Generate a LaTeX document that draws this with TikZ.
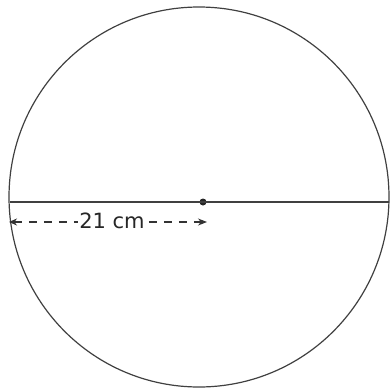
\documentclass[tikz,border=0pt]{standalone}
\usepackage{fontspec}
\setmainfont{DejaVu Sans}
\usetikzlibrary{arrows.meta}
\begin{document}
\begin{tikzpicture}[x=1pt, y=-1pt,
            dot/.style={circle, fill=black!85, minimum size=7pt, inner sep=0pt},
            measure/.style={dashed, dash pattern=on 8pt off 7pt, line width=1.1pt, {Stealth[length=8pt,width=7pt]}-{Stealth[length=9pt,width=7pt]}}
            ]
            \useasboundingbox (0,0) rectangle (390,391);
            \coordinate (o) at (199,197);
            \coordinate (l) at (10,202);
            \coordinate (r) at (389,202);
            \node[dot] (c) at (203,202) {};
            \coordinate (al) at (9,222);
            \coordinate (ar) at (207,222);

            \draw[line width=1.2pt, gray!50!black] (o) circle (190);
            \draw[line width=1.4pt, black!75] (l)--(r);
            \draw[measure, black!80] (al)--(ar);
            \node[fill=white, inner sep=1pt, font=\fontsize{21}{24}\selectfont, text=black!85] (len) at (112,221) {21 cm};

            \end{tikzpicture}
\end{document}
